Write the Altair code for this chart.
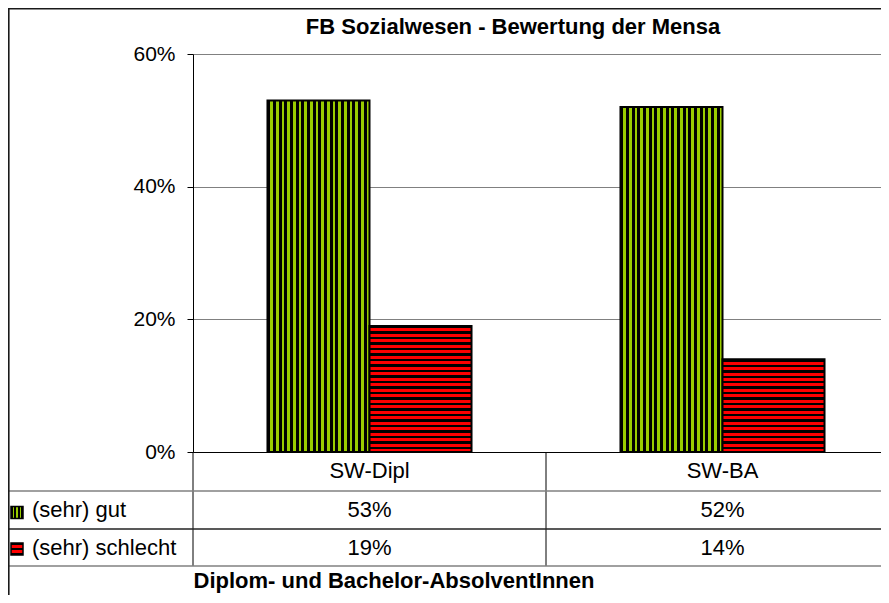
import altair as alt
import pandas as pd

# ---------------- data ----------------
categories = ["SW-Dipl", "SW-BA"]
series = ["(sehr) gut", "(sehr) schlecht"]
gut = [0.53, 0.52]
schlecht = [0.19, 0.14]
y_ticks = [0, 0.2, 0.4, 0.6]
chart_title = "FB Sozialwesen - Bewertung der Mensa"
x_title = "Diplom- und Bachelor-AbsolventInnen"

# ---------------- style ----------------
FONT = "Liberation Sans"
FS = 22
FS_TICK = 21
GREEN = "#99CC00"
RED = "#FF0000"
DARK = "#000000"
GRID = "#808080"

PLOT_W = 688          # visible plot width (to the window edge)
BAND_RANGE = 706      # full width of the two category bands
PLOT_H = 398
Y_MAX = 0.6
TABLE_H = 114
PAD = {"left": 185, "top": 46, "right": 0, "bottom": 143}

rows = []
for s, vals in zip(series, [gut, schlecht]):
    for c, v in zip(categories, vals):
        rows.append({"category": c, "series": s, "value": v})
df = pd.DataFrame(rows)
cat_df = pd.DataFrame({"category": categories})
one = pd.DataFrame({"k": [0]})


def striped(n, on_color, on_frac, along_x):
    stops = []
    for k in range(n):
        a = k / n
        m = a + (1 - on_frac) / n
        b = (k + 1) / n
        for off, col in [(a, DARK), (m, DARK), (m, on_color), (b, on_color)]:
            stops.append(alt.GradientStop(offset=round(min(max(off, 0), 1), 5), color=col))
    if along_x:
        return alt.LinearGradient(gradient="linear", stops=stops, x1=0, x2=1, y1=0, y2=0)
    return alt.LinearGradient(gradient="linear", stops=stops, x1=0, x2=0, y1=0, y2=1)


def segments(nseg, on_color, along_x):
    stops = []
    for k in range(nseg):
        col = DARK if k % 2 == 0 else on_color
        stops.append(alt.GradientStop(offset=round(k / nseg, 5), color=col))
        stops.append(alt.GradientStop(offset=round((k + 1) / nseg, 5), color=col))
    if along_x:
        return alt.LinearGradient(gradient="linear", stops=stops, x1=0, x2=1, y1=0, y2=0)
    return alt.LinearGradient(gradient="linear", stops=stops, x1=0, x2=0, y1=0, y2=1)


x_scale = alt.Scale(domain=categories, range=[0, BAND_RANGE], paddingInner=0, paddingOuter=0)
x_axis = alt.Axis(labels=False, ticks=False, title=None, grid=False,
                  domainColor="black", domainWidth=1, zindex=1)


def X(**kw):
    return alt.X("category:N", scale=x_scale, axis=x_axis, **kw)


y_axis = alt.Axis(values=y_ticks, format=".0%", title=None, grid=True, gridColor=GRID,
                  gridWidth=1, labelFont=FONT, labelFontSize=FS_TICK, labelColor="black",
                  labelPadding=12, tickSize=6, tickColor="black", domainColor="black",
                  domainWidth=1)
y_enc = alt.Y("value:Q", scale=alt.Scale(domain=[0, Y_MAX]), axis=y_axis)
xoff = alt.XOffset("series:N", scale=alt.Scale(domain=series, paddingInner=0, paddingOuter=0.73))

layers = []

# bars with striped fills
for s, vals in zip(series, [gut, schlecht]):
    for c, v in zip(categories, vals):
        if s == series[0]:
            grad = striped(18, GREEN, 0.5, along_x=True)
        else:
            h = v * PLOT_H / Y_MAX
            grad = striped(max(1, round(h / 5.4)), RED, 0.55, along_x=False)
        layers.append(
            alt.Chart(df)
            .transform_filter((alt.datum.category == c) & (alt.datum.series == s))
            .mark_bar(fill=grad, stroke="black", strokeWidth=2)
            .encode(x=X(), xOffset=xoff, y=y_enc)
        )

# data table: vertical dividers at band starts
layers.append(
    alt.Chart(cat_df).mark_rule(color="black", strokeWidth=1)
    .encode(x=X(bandPosition=0), y=alt.value(PLOT_H), y2=alt.value(PLOT_H + TABLE_H))
)

# data table: horizontal lines
for yy, col in [(437, GRID), (475, "#222222"), (512, GRID)]:
    layers.append(
        alt.Chart(one).mark_rule(color=col, strokeWidth=1.3)
        .encode(x=alt.value(-PAD["left"]), x2=alt.value(PLOT_W), y=alt.value(yy))
    )

# outer frame (top and left)
layers.append(
    alt.Chart(one).mark_rule(color="#1a1a1a", strokeWidth=1.6)
    .encode(x=alt.value(-PAD["left"]), x2=alt.value(PLOT_W), y=alt.value(-PAD["top"] + 0.8))
)
layers.append(
    alt.Chart(one).mark_rule(color="#1a1a1a", strokeWidth=1.6)
    .encode(x=alt.value(-PAD["left"] + 0.8), y=alt.value(-PAD["top"]),
            y2=alt.value(PLOT_H + PAD["bottom"]))
)

# category labels (table header row)
layers.append(
    alt.Chart(cat_df).mark_text(font=FONT, fontSize=FS, baseline="alphabetic", color="black")
    .encode(x=X(), y=alt.value(424), text="category:N")
)

row_base = [463, 501]
sq_y = [458.5, 495]
sq_grads = [segments(7, GREEN, along_x=True), segments(5, RED, along_x=False)]
for i, s in enumerate(series):
    layers.append(
        alt.Chart(df).transform_filter(alt.datum.series == s)
        .mark_text(font=FONT, fontSize=FS, baseline="alphabetic", color="black")
        .encode(x=X(), y=alt.value(row_base[i]), text=alt.Text("value:Q", format=".0%"))
    )
    layers.append(
        alt.Chart(pd.DataFrame({"series": [s]}))
        .mark_text(font=FONT, fontSize=FS, baseline="alphabetic", align="left", color="black")
        .encode(x=alt.value(-161), y=alt.value(row_base[i]), text="series:N")
    )
    layers.append(
        alt.Chart(pd.DataFrame({"series": [s]}))
        .mark_square(size=144, fill=sq_grads[i], stroke="black", strokeWidth=1.5, opacity=1)
        .encode(x=alt.value(-176), y=alt.value(sq_y[i]))
    )

# chart title and x-axis title
layers.append(
    alt.Chart(one).mark_text(font=FONT, fontSize=FS, fontWeight="bold", baseline="alphabetic",
                             align="center", color="black")
    .encode(x=alt.value(320), y=alt.value(-19.7), text=alt.value(chart_title))
)
layers.append(
    alt.Chart(one).mark_text(font=FONT, fontSize=FS, fontWeight="bold", baseline="alphabetic",
                             align="center", color="black")
    .encode(x=alt.value(201), y=alt.value(534), text=alt.value(x_title))
)

chart = (
    alt.layer(*layers)
    .properties(width=PLOT_W, height=PLOT_H, autosize=alt.AutoSizeParams(type="none"),
                padding=PAD, background="white")
    .configure_view(stroke=None)
)

chart.save("out.html", embed_options={"renderer": "svg", "actions": False})
